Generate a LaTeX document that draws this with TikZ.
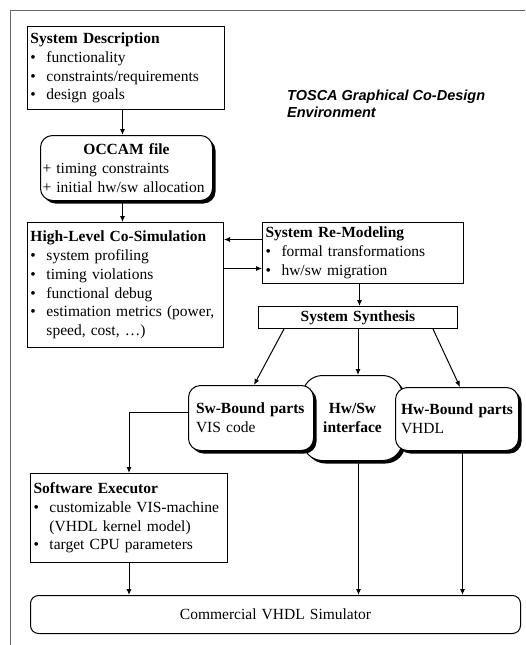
\documentclass[tikz,border=0pt]{standalone}
\usepackage{fontspec}
\setmainfont{Liberation Serif}
\newfontfamily\toscafont{Liberation Sans}
\usetikzlibrary{arrows.meta,shadows}
\newcommand{\itm}{\makebox[16pt][l]{\textbullet}}
\newcommand{\cnt}{\hspace*{16pt}}

\begin{document}
\begin{tikzpicture}[x=1pt,y=-1pt,
	blk/.style={draw, line width=1pt, fill=white, anchor=north west, inner xsep=3pt, inner ysep=0pt, align=left, font=\fontsize{15.5}{18.8}\selectfont},
	rblk/.style={blk, rounded corners=12pt, drop shadow={shadow xshift=3pt, shadow yshift=-3pt, opacity=1, fill=black}},
	arr/.style={line width=1pt, -{Latex[length=6pt,width=5pt]}}]
	\useasboundingbox (0,0) rectangle (525,645);
	\draw[line width=1pt, black!60] (10,645) -- (10,10) -- (525,10);
	% boxes
	\node[blk, text width=191pt, minimum height=83pt] (sysdesc) at (27,26)
		{\textbf{System Description}\\\itm functionality\\\itm constraints/requirements\\\itm design goals};
	\node[rblk, inner xsep=2pt, text width=168pt, minimum height=65pt] (occam) at (40,135)
		{\makebox[168pt]{\textbf{OCCAM file}}\\+ timing constraints\\+ initial hw/sw allocation};
	\node[blk, text width=190pt, minimum height=125pt] (cosim) at (27,222)
		{\textbf{High-Level Co-Simulation}\\\itm system profiling\\\itm timing violations\\\itm functional debug\\\itm estimation metrics (power,\\\cnt speed, cost, \dots)};
	\node[blk, text width=195pt, minimum height=61pt] (remodel) at (262,222)
		{\textbf{System Re-Modeling}\\\itm formal transformations\\\itm hw/sw migration};
	\node[blk, align=center, text width=193pt, minimum height=22pt] (synth) at (258,306)
		{\textbf{System Synthesis}};
	\node[rblk, rounded corners=20pt, align=center, inner xsep=2pt, text width=96pt, minimum height=85pt] (hwsw) at (302,375)
		{\textbf{Hw/Sw}\\\textbf{interface}};
	\node[rblk, inner xsep=7.5pt, text width=110pt, minimum height=65pt] (swbound) at (188,385)
		{\textbf{Sw-Bound parts}\\VIS code};
	\node[rblk, inner xsep=5.5pt, text width=112pt, minimum height=63pt] (hwbound) at (395,387)
		{\textbf{Hw-Bound parts}\\VHDL};
	\node[blk, text width=191pt, minimum height=89pt] (executor) at (30,473)
		{\textbf{Software Executor}\\\itm customizable VIS-machine\\\cnt (VHDL kernel model)\\\itm target CPU parameters};
	\node[blk, rounded corners=8pt, align=center, text width=484pt, minimum height=38pt] (simulator) at (30,595)
		{Commercial VHDL Simulator};
	\node[anchor=west, inner sep=0pt, align=left, font=\toscafont\bfseries\itshape\fontsize{14.5}{17}\selectfont] (tosca) at (287,103.5)
		{TOSCA Graphical Co-Design\\Environment};
	% connectors
	\draw[arr] ([xshift=-3.5pt]sysdesc.south) -- ([xshift=-3.5pt]sysdesc.south |- occam.north);
	\draw[arr] ([xshift=-4pt]occam.south) -- ([xshift=-4pt]occam.south |- cosim.north);
	\coordinate (ra) at ([yshift=13.5pt]remodel.west);
	\coordinate (rb) at ([yshift=-15.5pt]remodel.west);
	\draw[arr] (ra) -- (ra -| cosim.east);
	\draw[arr] (rb -| cosim.east) -- (rb);
	\draw[arr] ([xshift=-3.5pt]remodel.south) -- ([xshift=-3.5pt]remodel.south |- synth.north);
	\draw[arr] ([xshift=26pt]synth.south west) -- ([xshift=66pt]swbound.north west);
	\draw[arr] (synth.south) -- (synth.south |- hwsw.north);
	\draw[arr] ([xshift=-25pt]synth.south east) -- ([xshift=65pt]hwbound.north west);
	\coordinate (sw) at ([yshift=5.5pt]swbound.west);
	\draw[arr] (sw) -| (executor.north);
	\draw[arr] (executor.south) -- (executor.south |- simulator.north);
	\draw[arr] ([xshift=6pt]hwsw.south) -- ([xshift=6pt]hwsw.south |- simulator.north);
	\draw[arr] ([xshift=5.5pt]hwbound.south) -- ([xshift=5.5pt]hwbound.south |- simulator.north);
\end{tikzpicture}
\end{document}
